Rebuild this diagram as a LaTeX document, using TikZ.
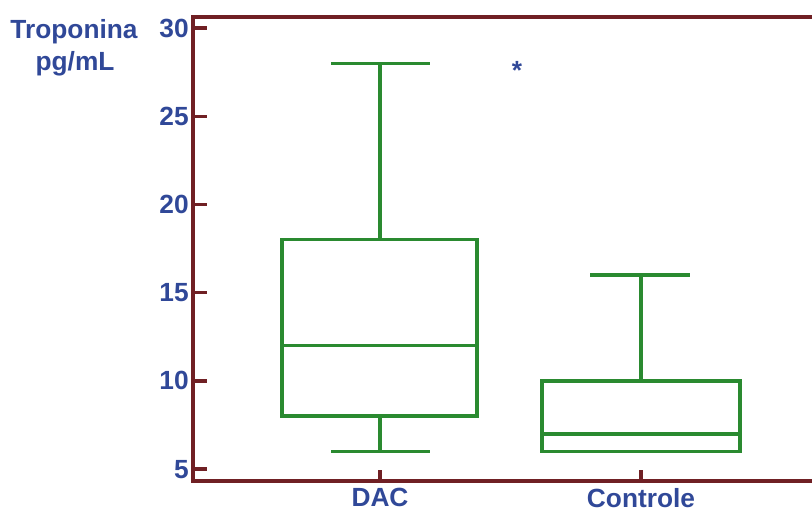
\documentclass[tikz,border=0pt]{standalone}
\usepackage{fontspec}
\setmainfont{Liberation Sans}
\definecolor{axisred}{RGB}{112,32,36}
\definecolor{labelblue}{RGB}{48,72,152}
\definecolor{boxgreen}{RGB}{42,138,48}

\begin{document}
\begin{tikzpicture}[x = 0.025cm, y = 0.441cm,
    font = \bfseries\fontsize{18.7}{22}\selectfont,
    frame/.style = {axisred, line width = 2.4pt},
    boxline/.style = {boxgreen, line width = 2.4pt},
    lbl/.style = {labelblue, inner sep = 0pt}]
        \useasboundingbox (0,2.506) rectangle (812,31.587);
        \draw[frame] (812,30.62) -- (193,30.62) -- (193,4.32) -- (812,4.32);
        \foreach \v in {5,10,...,30} {
          \draw[frame] (193,\v) -- (207,\v);
          \node[lbl, anchor = east] (tick\v) at (189,\v) {\v};
        }
        \draw[frame] (380,4.32) -- (380,4.95);
        \draw[frame] (641,4.32) -- (641,4.95);
        \node[lbl] (dac) at (380,3.38) {DAC};
        \node[lbl] (controle) at (641,3.38) {Controle};
        \node[lbl] (ytop) at (74,29.8) {Troponina};
        \node[lbl] (ybot) at (75,28.0) {pg/mL};
        \node[lbl] (star) at (517,27.6) {*};
        % DAC
        \draw[boxline] (282,8) rectangle (477,18);
        \draw[boxline] (282,12) -- (477,12);
        \draw[boxline] (380,18) -- (380,28);
        \draw[boxline] (331,28) -- (430,28);
        \draw[boxline] (380,8) -- (380,6);
        \draw[boxline] (331,6) -- (430,6);
        % Controle
        \draw[boxline] (542,6) rectangle (740,10);
        \draw[boxline] (542,7) -- (740,7);
        \draw[boxline] (641,10) -- (641,16);
        \draw[boxline] (590,16) -- (690,16);
      \end{tikzpicture}
\end{document}
